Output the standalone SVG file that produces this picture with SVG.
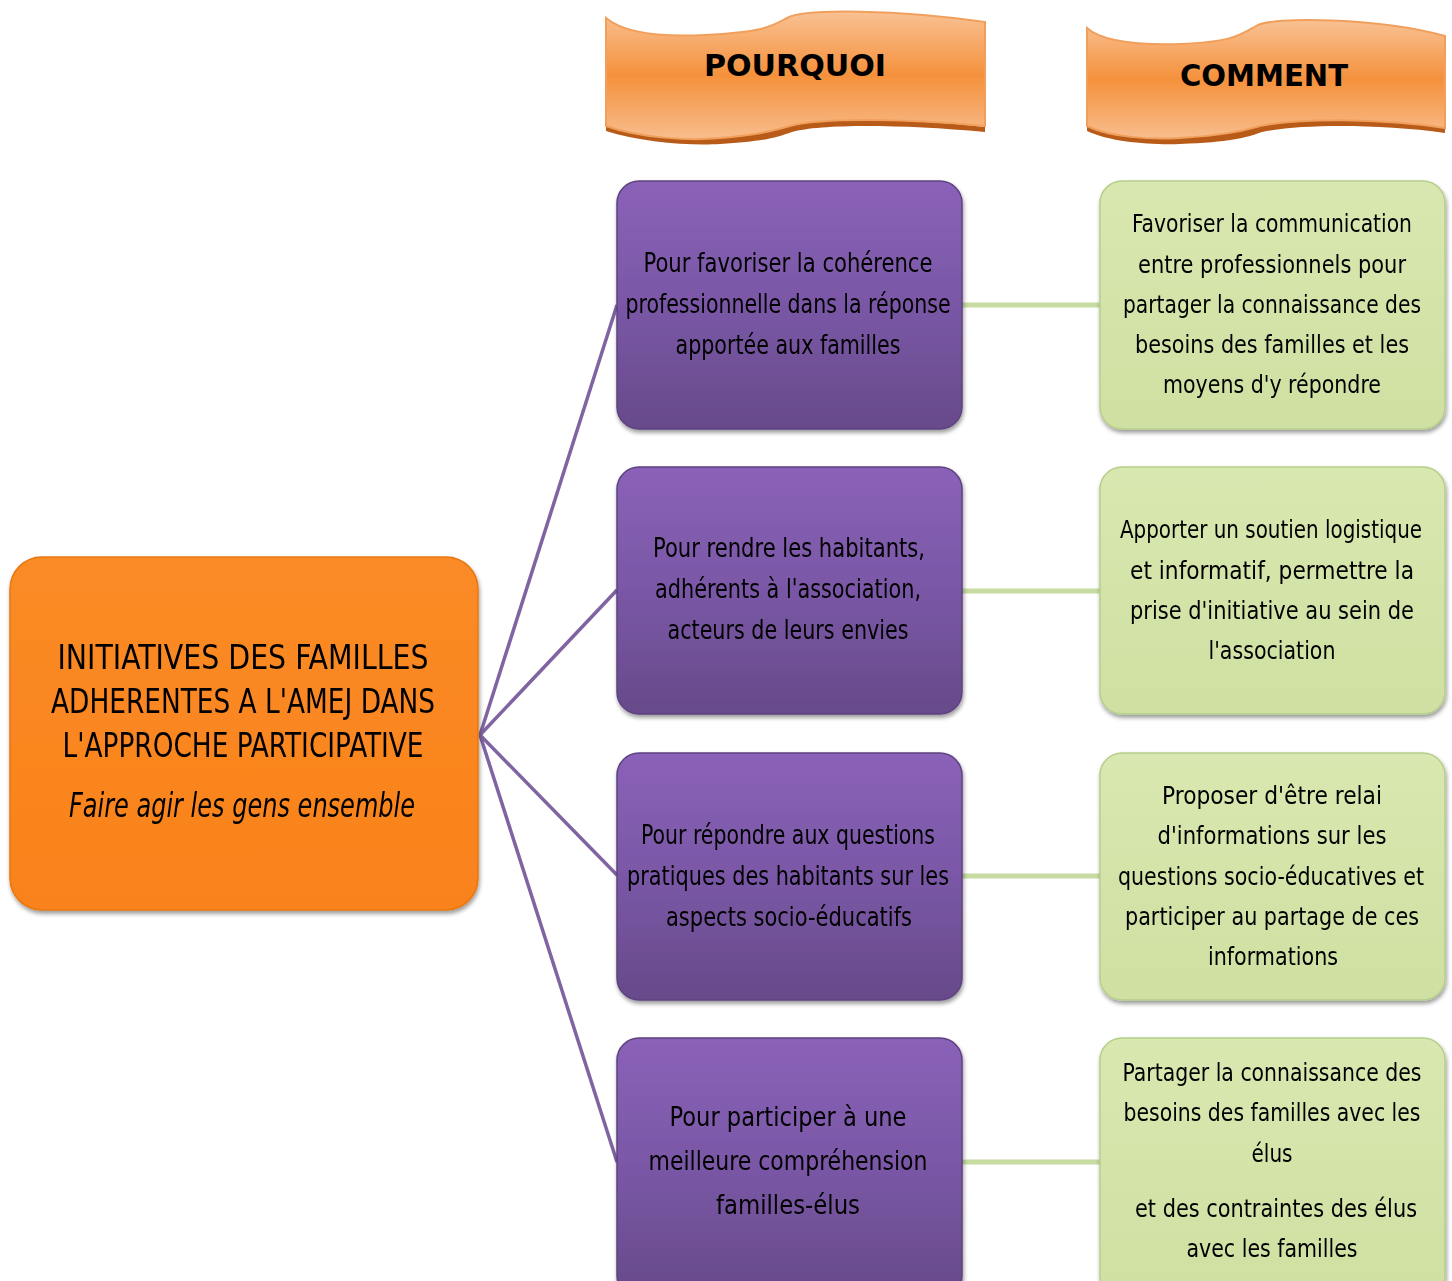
<svg xmlns="http://www.w3.org/2000/svg" width="1452" height="1281" viewBox="0 0 1452 1281">
<defs>
<linearGradient id="gPurple" x1="0" y1="0" x2="0" y2="1">
<stop offset="0" stop-color="#8A62B8"/><stop offset="0.5" stop-color="#7A57A6"/><stop offset="1" stop-color="#674A8A"/>
</linearGradient>
<linearGradient id="gGreen" x1="0" y1="0" x2="0" y2="1">
<stop offset="0" stop-color="#D8E8B0"/><stop offset="1" stop-color="#CFE0A2"/>
</linearGradient>
<linearGradient id="gOrange" x1="0" y1="0" x2="0" y2="1">
<stop offset="0" stop-color="#FB8B26"/><stop offset="1" stop-color="#F9821A"/>
</linearGradient>
<linearGradient id="gBanner" x1="0" y1="0" x2="0" y2="1">
<stop offset="0" stop-color="#F9C193"/><stop offset="0.5" stop-color="#F5913C"/><stop offset="1" stop-color="#F8BD8D"/>
</linearGradient>
<filter id="sh" x="-10%" y="-10%" width="120%" height="120%">
<feGaussianBlur in="SourceAlpha" stdDeviation="2"/><feOffset dx="1" dy="3"/>
<feComponentTransfer><feFuncA type="linear" slope="0.4"/></feComponentTransfer>
<feMerge><feMergeNode/><feMergeNode in="SourceGraphic"/></feMerge>
</filter>
</defs>
<style>
.t{font-family:"DejaVu Sans Condensed","DejaVu Sans","Liberation Sans",sans-serif;fill:#000;text-anchor:middle}
.p{font-size:26px}
.g{font-size:25px}
.o{font-size:33px}
.b{font-size:31px;font-weight:bold}
.box-p{fill:url(#gPurple);stroke:#5E4280;stroke-width:1.5}
.box-g{fill:url(#gGreen);stroke:#B7CE8A;stroke-width:1.5}
.conn-p{stroke:#8064A2;stroke-width:3.5;fill:none}
.conn-g{stroke:#C6DCA0;stroke-width:5;fill:none}
.banner{fill:url(#gBanner);stroke:#F0A05C;stroke-width:2}
.bshadow{fill:#B85A18}
</style>
<rect width="1452" height="1281" fill="#fff"/>

<g id="connectors">
<line class="conn-p" x1="480" y1="735" x2="617" y2="305"/>
<line class="conn-p" x1="480" y1="735" x2="617" y2="590"/>
<line class="conn-p" x1="480" y1="735" x2="617" y2="875"/>
<line class="conn-p" x1="480" y1="735" x2="617" y2="1162"/>
<line class="conn-g" x1="962" y1="305" x2="1100" y2="305"/>
<line class="conn-g" x1="962" y1="591" x2="1100" y2="591"/>
<line class="conn-g" x1="962" y1="876" x2="1100" y2="876"/>
<line class="conn-g" x1="962" y1="1162" x2="1100" y2="1162"/>
</g>

<g id="banner-pourquoi">
<path class="bshadow" d="M606,126 C640,138 690,141 720,138 C760,135 775,130 790,126 C820,118 900,118 985,127 L985,132 C900,124 820,124 792,132 C775,138 760,142 720,144 C690,146 640,142 606,131 Z"/>
<path class="banner" d="M606,18 C625,34 665,37 705,35 C765,32 772,26 787,18 C805,8 900,10 985,22 L985,126 C900,118 820,118 790,126 C775,130 760,135 720,138 C690,141 640,138 606,126 Z"/>
<text class="t b" x="795" y="76" textLength="182" lengthAdjust="spacingAndGlyphs">POURQUOI</text>
</g>

<g id="banner-comment">
<path class="bshadow" d="M1087,126 C1110,137 1150,140 1180,138 C1230,135 1245,130 1260,126 C1300,118 1380,118 1445,128 L1445,133 C1380,124 1300,124 1262,132 C1245,138 1230,142 1180,144 C1150,145 1110,142 1087,131 Z"/>
<path class="banner" d="M1087,28 C1102,42 1140,45 1180,44 C1232,42 1240,35 1256,26 C1272,16 1380,18 1445,36 L1445,128 C1380,118 1300,118 1260,126 C1245,130 1230,135 1180,138 C1150,140 1110,137 1087,126 Z"/>
<text class="t b" x="1264" y="86" textLength="168" lengthAdjust="spacingAndGlyphs">COMMENT</text>
</g>

<g id="main" filter="url(#sh)">
<rect x="10" y="557" width="468" height="353" rx="32" fill="url(#gOrange)" stroke="#E8770F" stroke-width="1.5"/>
<text class="t o" x="243" y="669" textLength="371" lengthAdjust="spacingAndGlyphs">INITIATIVES DES FAMILLES</text>
<text class="t o" x="243" y="713" textLength="384" lengthAdjust="spacingAndGlyphs">ADHERENTES A L'AMEJ DANS</text>
<text class="t o" x="243" y="757" textLength="361" lengthAdjust="spacingAndGlyphs">L'APPROCHE PARTICIPATIVE</text>
<text class="t o" x="242" y="817" font-style="italic" textLength="346" lengthAdjust="spacingAndGlyphs">Faire agir  les gens ensemble</text>
</g>

<g id="why1" filter="url(#sh)">
<rect class="box-p" x="617" y="181" width="345" height="248" rx="22"/>
<text class="t p" x="788" y="272" textLength="289" lengthAdjust="spacingAndGlyphs">Pour favoriser la cohérence</text>
<text class="t p" x="788" y="313" textLength="325" lengthAdjust="spacingAndGlyphs">professionnelle dans la réponse</text>
<text class="t p" x="788" y="354" textLength="225" lengthAdjust="spacingAndGlyphs">apportée aux familles</text>
</g>
<g id="why2" filter="url(#sh)">
<rect class="box-p" x="617" y="467" width="345" height="247" rx="22"/>
<text class="t p" x="789" y="557" textLength="272" lengthAdjust="spacingAndGlyphs">Pour rendre les habitants,</text>
<text class="t p" x="788" y="598" textLength="266" lengthAdjust="spacingAndGlyphs">adhérents à l'association,</text>
<text class="t p" x="788" y="639" textLength="241" lengthAdjust="spacingAndGlyphs">acteurs de leurs envies</text>
</g>
<g id="why3" filter="url(#sh)">
<rect class="box-p" x="617" y="753" width="345" height="247" rx="22"/>
<text class="t p" x="788" y="844" textLength="294" lengthAdjust="spacingAndGlyphs">Pour répondre aux questions</text>
<text class="t p" x="788" y="885" textLength="322" lengthAdjust="spacingAndGlyphs">pratiques des habitants sur les</text>
<text class="t p" x="789" y="926" textLength="246" lengthAdjust="spacingAndGlyphs">aspects socio-éducatifs</text>
</g>
<g id="why4" filter="url(#sh)">
<rect class="box-p" x="617" y="1038" width="345" height="260" rx="22"/>
<text class="t p" x="788" y="1126" font-size="28" textLength="237" lengthAdjust="spacingAndGlyphs">Pour participer à une</text>
<text class="t p" x="788" y="1170" font-size="28" textLength="279" lengthAdjust="spacingAndGlyphs">meilleure compréhension</text>
<text class="t p" x="788" y="1214" font-size="28" textLength="144" lengthAdjust="spacingAndGlyphs">familles-élus</text>
</g>

<g id="how1" filter="url(#sh)">
<rect class="box-g" x="1100" y="181" width="345" height="248" rx="22"/>
<text class="t g" x="1272" y="232" textLength="280" lengthAdjust="spacingAndGlyphs">Favoriser la communication</text>
<text class="t g" x="1272" y="273" textLength="268" lengthAdjust="spacingAndGlyphs">entre professionnels pour</text>
<text class="t g" x="1272" y="313" textLength="298" lengthAdjust="spacingAndGlyphs">partager la connaissance des</text>
<text class="t g" x="1272" y="353" textLength="274" lengthAdjust="spacingAndGlyphs">besoins des familles et les</text>
<text class="t g" x="1272" y="393" textLength="218" lengthAdjust="spacingAndGlyphs">moyens d'y répondre</text>
</g>
<g id="how2" filter="url(#sh)">
<rect class="box-g" x="1100" y="467" width="345" height="247" rx="22"/>
<text class="t g" x="1271" y="538" font-size="23" textLength="302" lengthAdjust="spacingAndGlyphs">Apporter un soutien logistique</text>
<text class="t g" x="1272" y="579" textLength="284" lengthAdjust="spacingAndGlyphs">et informatif, permettre la</text>
<text class="t g" x="1272" y="619" textLength="284" lengthAdjust="spacingAndGlyphs">prise d'initiative au sein de</text>
<text class="t g" x="1272" y="659" textLength="127" lengthAdjust="spacingAndGlyphs">l'association</text>
</g>
<g id="how3" filter="url(#sh)">
<rect class="box-g" x="1100" y="753" width="345" height="247" rx="22"/>
<text class="t g" x="1272" y="804" textLength="220" lengthAdjust="spacingAndGlyphs">Proposer d'être relai</text>
<text class="t g" x="1272" y="844" textLength="229" lengthAdjust="spacingAndGlyphs">d'informations sur les</text>
<text class="t g" x="1271" y="885" textLength="306" lengthAdjust="spacingAndGlyphs">questions socio-éducatives et</text>
<text class="t g" x="1272" y="925" textLength="294" lengthAdjust="spacingAndGlyphs">participer au partage de ces</text>
<text class="t g" x="1273" y="965" textLength="130" lengthAdjust="spacingAndGlyphs">informations</text>
</g>
<g id="how4" filter="url(#sh)">
<rect class="box-g" x="1100" y="1038" width="345" height="260" rx="22"/>
<text class="t g" x="1272" y="1081" textLength="299" lengthAdjust="spacingAndGlyphs">Partager la connaissance des</text>
<text class="t g" x="1272" y="1121" textLength="297" lengthAdjust="spacingAndGlyphs">besoins des familles avec les</text>
<text class="t g" x="1272" y="1162" textLength="41" lengthAdjust="spacingAndGlyphs">élus</text>
<text class="t g" x="1276" y="1217" textLength="282" lengthAdjust="spacingAndGlyphs">et des contraintes des élus</text>
<text class="t g" x="1272" y="1257" textLength="171" lengthAdjust="spacingAndGlyphs">avec les familles</text>
</g>
</svg>
